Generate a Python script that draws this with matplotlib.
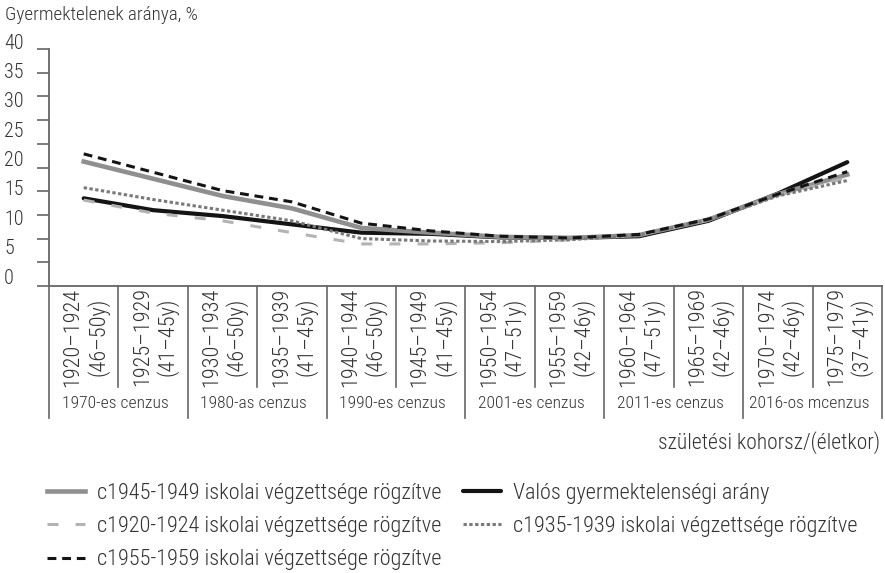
import matplotlib
matplotlib.use("Agg")
import matplotlib.pyplot as plt
import matplotlib.transforms as mtransforms
from matplotlib.lines import Line2D
import numpy as np

plt.rcParams['font.family'] = ['Roboto Condensed', 'DejaVu Sans Condensed', 'Lato', 'DejaVu Sans']

# ---------------- data ----------------
cohorts = ["1920–1924", "1925–1929", "1930–1934", "1935–1939", "1940–1944", "1945–1949",
           "1950–1954", "1955–1959", "1960–1964", "1965–1969", "1970–1974", "1975–1979"]
ages = ["(46–50y)", "(41–45y)", "(46–50y)", "(41–45y)", "(46–50y)", "(41–45y)",
        "(47–51y)", "(42–46y)", "(47–51y)", "(42–46y)", "(42–46y)", "(37–41y)"]
censuses = ["1970-es cenzus", "1980-as cenzus", "1990-es cenzus",
            "2001-es cenzus", "2011-es cenzus", "2016-os mcenzus"]

valos = [14.8, 12.8, 11.8, 10.4, 9.0, 8.8, 8.2, 8.1, 8.4, 11.0, 15.6, 20.9]
c1945 = [21.0, 18.1, 15.2, 13.1, 9.8, 9.0, 8.3, 8.1, 8.6, 11.2, 15.5, 18.8]
c1955 = [22.3, 19.2, 16.1, 14.2, 10.6, 9.3, 8.4, 8.1, 8.7, 11.3, 15.5, 19.3]
c1935 = [16.6, 14.6, 12.8, 11.0, 8.0, 7.6, 7.5, 7.8, 8.6, 11.1, 15.2, 17.8]
c1920 = [14.5, 12.3, 11.0, 9.0, 7.1, 7.1, 7.3, 7.8, 8.6, 11.1, 15.3, 18.3]

ytick_labels = ["0", "5", "10", "15", "20", "25", "30", "35", "40"]

names = ["c1945-1949 iskolai végzettsége rögzítve",
         "c1920-1924 iskolai végzettsége rögzítve",
         "c1955-1959 iskolai végzettsége rögzítve",
         "Valós gyermektelenségi arány",
         "c1935-1939 iskolai végzettsége rögzítve"]

# ---------------- figure ----------------
W, H = 885, 573
fig = plt.figure(figsize=(W / 100, H / 100), dpi=100)
L, R, T, B = 49, 882, 49, 286
ax = fig.add_axes([L / W, 1 - B / H, (R - L) / W, (B - T) / H])

TXT = "#333333"
AXC = "#666666"
FW = "light"

x = np.arange(len(cohorts))
l_val, = ax.plot(x, valos, color="#141414", lw=3.0, solid_capstyle="round", zorder=2)
l_45, = ax.plot(x, c1945, color="#8f8f8f", lw=3.3, zorder=3)
l_20, = ax.plot(x, c1920, color="#b3b3b3", lw=2.2, dashes=(3.6, 5.6), zorder=4)
l_35, = ax.plot(x, c1935, color="#7a7a7a", lw=2.2, dashes=(1.1, 0.8), zorder=5)
l_55, = ax.plot(x, c1955, color="#141414", lw=2.2, dashes=(2.9, 1.9), zorder=6)

ax.set_xlim(-0.5, len(cohorts) - 0.5)
ax.set_ylim(0, 40)
ax.set_yticks(np.linspace(0, 40, 11))
ax.set_yticklabels([])
ax.set_xticks([])
ax.tick_params(axis="y", length=9, width=1.2, color=AXC, direction="out")
for s in ["top", "right"]:
    ax.spines[s].set_visible(False)
for s in ["left", "bottom"]:
    ax.spines[s].set_color(AXC)
    ax.spines[s].set_linewidth(1.3)

# y labels (placed with their own spacing, as in the reference)
lab0_px, lab_step_px = 278, 29.35
for i, lab in enumerate(ytick_labels):
    ypx = lab0_px - i * lab_step_px
    fig.text(4 / W, 1 - ypx / H, lab, ha="left", va="center", fontsize=14.5,
             color=TXT, fontweight=FW)

# x axis table
trans = mtransforms.blended_transform_factory(ax.transData, ax.transAxes)
ah = B - T
cat_bottom = -(387 - B) / ah
grp_bottom = -(418 - B) / ah
for i in range(len(cohorts) + 1):
    yb = grp_bottom if i % 2 == 0 else cat_bottom
    ax.add_line(Line2D([i - 0.5, i - 0.5], [0, yb], transform=trans, color=AXC,
                       lw=1.2, clip_on=False))
for i, (c, a) in enumerate(zip(cohorts, ages)):
    ax.text(i + 0.03, -(337 - B) / ah, c + "\n" + a, transform=trans, rotation=90,
            ha="center", va="center", multialignment="center", fontsize=16,
            color=TXT, linespacing=1.15, fontweight=FW)
for g, name in enumerate(censuses):
    ax.text(2 * g + 0.45, -(403 - B) / ah, name, transform=trans, ha="center",
            va="center", fontsize=12.6, color=TXT, fontweight=FW)

fig.text(5 / W, 1 - 15 / H, "Gyermektelenek aránya, %", ha="left", va="center",
         fontsize=13.8, color=TXT, fontweight=FW)
fig.text(880 / W, 1 - 443 / H, "születési kohorsz/(életkor)", ha="right", va="center",
         fontsize=15.5, color=TXT, fontweight=FW)

leg = fig.legend([l_45, l_20, l_55, l_val, l_35], names, ncol=2,
                 loc="upper left", bbox_to_anchor=(47 / W, 1 - 483 / H),
                 frameon=False, handlelength=1.7, handletextpad=0.55,
                 columnspacing=0.97, labelspacing=0.55, borderpad=0, borderaxespad=0,
                 labelcolor=TXT, prop={"size": 16, "weight": FW})

fig.savefig("out.png", dpi=100)
